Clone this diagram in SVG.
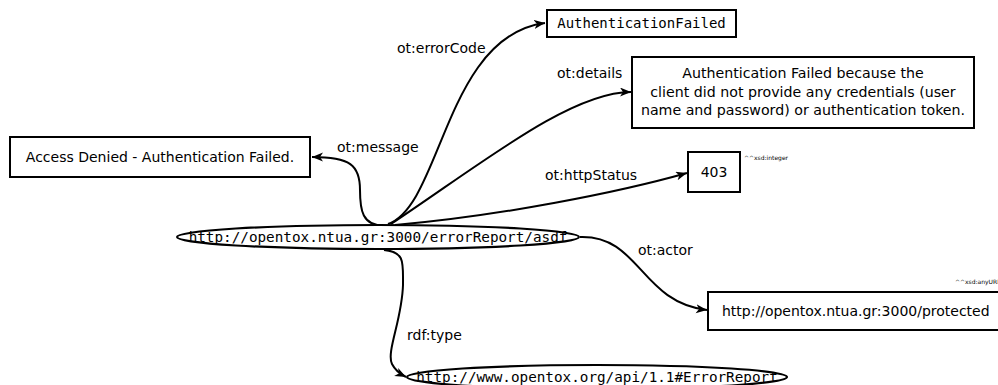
<svg xmlns="http://www.w3.org/2000/svg" width="998" height="385" viewBox="0 0 998 385">
  <style>
    .box { fill: #fff; stroke: #000; stroke-width: 2; }
    .res { fill: #fff; stroke: #000; stroke-width: 2.2; }
    .edge { fill: none; stroke: #000; stroke-width: 2; marker-end: url(#arrow); }
    .sans { font-family: "DejaVu Sans", Verdana, sans-serif; font-size: 14px; fill: #000; }
    .mono { font-family: "DejaVu Sans Mono", "Liberation Mono", monospace; font-size: 14px; fill: #000; }
    .dt { font-family: "DejaVu Sans", Verdana, sans-serif; font-size: 6px; fill: #000; }
  </style>
  <defs>
    <marker id="arrow" markerUnits="userSpaceOnUse" markerWidth="12" markerHeight="10" refX="11" refY="4.5" orient="auto">
      <path d="M0,0 L11,4.5 L0,9 L3,4.5 z" fill="#000"/>
    </marker>
  </defs>
  <rect width="998" height="385" fill="#fff"/>

  <!-- connectors -->
  <g id="edges">
    <path class="edge" d="M388,224 C442,205 445,36 545,23"/>
    <text class="sans" x="397" y="53">ot:errorCode</text>

    <path class="edge" d="M391,224 C480,165 570,92 631,92"/>
    <text class="sans" x="557" y="78">ot:details</text>

    <path class="edge" d="M395,225 C500,216 620,192 687,173"/>
    <text class="sans" x="545" y="180">ot:httpStatus</text>

    <path class="edge" d="M580,237 C640,235 640,302 707,310"/>
    <text class="sans" x="638" y="255">ot:actor</text>

    <path class="edge" d="M385,226 C362,226 360,210 360,190 C360,165 350,157 312,157"/>
    <text class="sans" x="337" y="152">ot:message</text>

    <path class="edge" d="M384,250 C405,252 403,262 403,285 C402,320 386,352 392,364 C395,370 400,374 406,377"/>
    <text class="sans" x="407" y="340">rdf:type</text>
  </g>

  <!-- subject resource -->
  <g id="errorReport">
    <ellipse class="res" cx="378" cy="237" rx="201" ry="12"/>
    <text class="mono" x="378" y="242" text-anchor="middle" style="font-size:14.3px">http://opentox.ntua.gr:3000/errorReport/asdf</text>
  </g>

  <!-- class resource -->
  <g id="errorReportClass">
    <ellipse class="res" cx="597" cy="377" rx="190" ry="12"/>
    <text class="mono" x="597" y="382" text-anchor="middle" style="font-size:14.3px">http://www.opentox.org/api/1.1#ErrorReport</text>
  </g>

  <!-- literals -->
  <g id="errorCode">
    <rect class="box" x="547" y="10" width="189" height="27"/>
    <text class="mono" x="641.5" y="28" text-anchor="middle">AuthenticationFailed</text>
  </g>

  <g id="details">
    <rect class="box" x="632" y="57" width="342" height="71"/>
    <text class="sans" x="803" y="78" text-anchor="middle" style="font-size:14.2px">Authentication Failed because the</text>
    <text class="sans" x="803" y="97" text-anchor="middle" style="font-size:14.2px">client did not provide any credentials (user</text>
    <text class="sans" x="803" y="115" text-anchor="middle" style="font-size:14.2px">name and password) or authentication token.</text>
  </g>

  <g id="message">
    <rect class="box" x="10" y="137" width="300" height="40"/>
    <text class="sans" x="160" y="162" text-anchor="middle">Access Denied - Authentication Failed.</text>
  </g>

  <g id="httpStatus">
    <rect class="box" x="688" y="152" width="52" height="40"/>
    <text class="sans" x="714" y="177" text-anchor="middle">403</text>
    <text class="dt" x="744" y="160">^^xsd:integer</text>
  </g>

  <g id="actor">
    <rect class="box" x="708" y="292" width="300" height="38"/>
    <text class="sans" x="722" y="316">http://opentox.ntua.gr:3000/protected</text>
    <text class="dt" x="955" y="284">^^xsd:anyURI</text>
  </g>
</svg>
